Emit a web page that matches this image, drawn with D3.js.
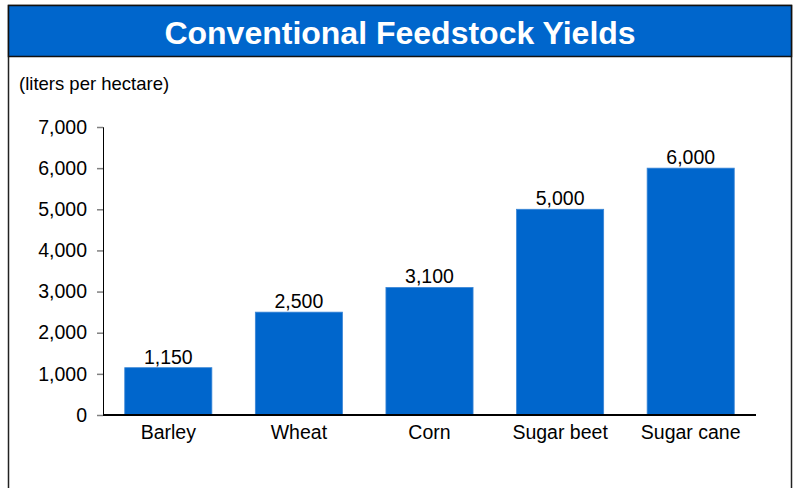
<!DOCTYPE html>
<html>
<head>
<meta charset="utf-8">
<script src="https://cdn.jsdelivr.net/npm/d3@7"></script>
<style>
  html, body { margin: 0; padding: 0; background: #fff; }
  svg { display: block; font-family: "Liberation Sans", Arial, sans-serif; }
</style>
</head>
<body>
<svg id="chart" width="796" height="488"></svg>
<script>
const categories = ["Barley", "Wheat", "Corn", "Sugar beet", "Sugar cane"];
const yields = [1150, 2500, 3100, 5000, 6000];
const yTicks = [0, 1000, 2000, 3000, 4000, 5000, 6000, 7000];
const titleText = "Conventional Feedstock Yields";
const unitText = "(liters per hectare)";

const svg = d3.select("#chart");
const blue = "#0066CC";
const fontFamily = "Liberation Sans, Arial, sans-serif";

// outer frame
svg.append("rect")
  .attr("x", 8.5).attr("y", 5.5)
  .attr("width", 783).attr("height", 490)
  .attr("fill", "#fff").attr("stroke", "#222").attr("stroke-width", 1.5);

// title band
svg.append("rect")
  .attr("x", 8.5).attr("y", 5.5)
  .attr("width", 783).attr("height", 51)
  .attr("fill", blue).attr("stroke", "#111").attr("stroke-width", 1.5);

svg.append("text")
  .attr("x", 400).attr("y", 44)
  .attr("text-anchor", "middle")
  .attr("fill", "#fff")
  .attr("font-weight", "bold")
  .attr("font-size", 32)
  .text(titleText);

svg.append("text")
  .attr("x", 19).attr("y", 90)
  .attr("font-size", 18.5)
  .attr("fill", "#000")
  .text(unitText);

const x = d3.scaleBand()
  .domain(categories)
  .range([103, 756])
  .paddingInner(0.333)
  .paddingOuter(0.1665);

const y = d3.scaleLinear()
  .domain([0, 7000])
  .range([415, 127]);

// y axis
const yAxis = svg.append("g")
  .attr("transform", "translate(103,0)")
  .call(d3.axisLeft(y).tickValues(yTicks).tickSize(6).tickPadding(10)
    .tickFormat(d3.format(",")));
yAxis.select(".domain").attr("stroke", "#000").attr("stroke-width", 1);
yAxis.selectAll(".tick line").attr("stroke", "#808080").attr("stroke-width", 1.5);
yAxis.selectAll(".tick text")
  .attr("font-size", 19.5)
  .attr("fill", "#000")
  .attr("font-family", fontFamily);

// bars
svg.append("g").selectAll("rect")
  .data(categories)
  .join("rect")
  .attr("x", d => x(d))
  .attr("y", (d, i) => y(yields[i]))
  .attr("width", x.bandwidth())
  .attr("height", (d, i) => y(0) - y(yields[i]))
  .attr("fill", blue)
  .attr("stroke", "#3a86d6")
  .attr("stroke-width", 0.8);

// value labels
svg.append("g").selectAll("text")
  .data(categories)
  .join("text")
  .attr("x", d => x(d) + x.bandwidth() / 2)
  .attr("y", (d, i) => y(yields[i]) - 4)
  .attr("text-anchor", "middle")
  .attr("font-size", 19.5)
  .attr("fill", "#000")
  .text((d, i) => d3.format(",")(yields[i]));

// x axis baseline
svg.append("line")
  .attr("x1", 103).attr("x2", 756)
  .attr("y1", y(0)).attr("y2", y(0))
  .attr("stroke", "#000").attr("stroke-width", 2);

// category labels
svg.append("g").selectAll("text")
  .data(categories)
  .join("text")
  .attr("x", d => x(d) + x.bandwidth() / 2)
  .attr("y", 439)
  .attr("text-anchor", "middle")
  .attr("font-size", 19.5)
  .attr("fill", "#000")
  .text(d => d);
</script>
</body>
</html>
